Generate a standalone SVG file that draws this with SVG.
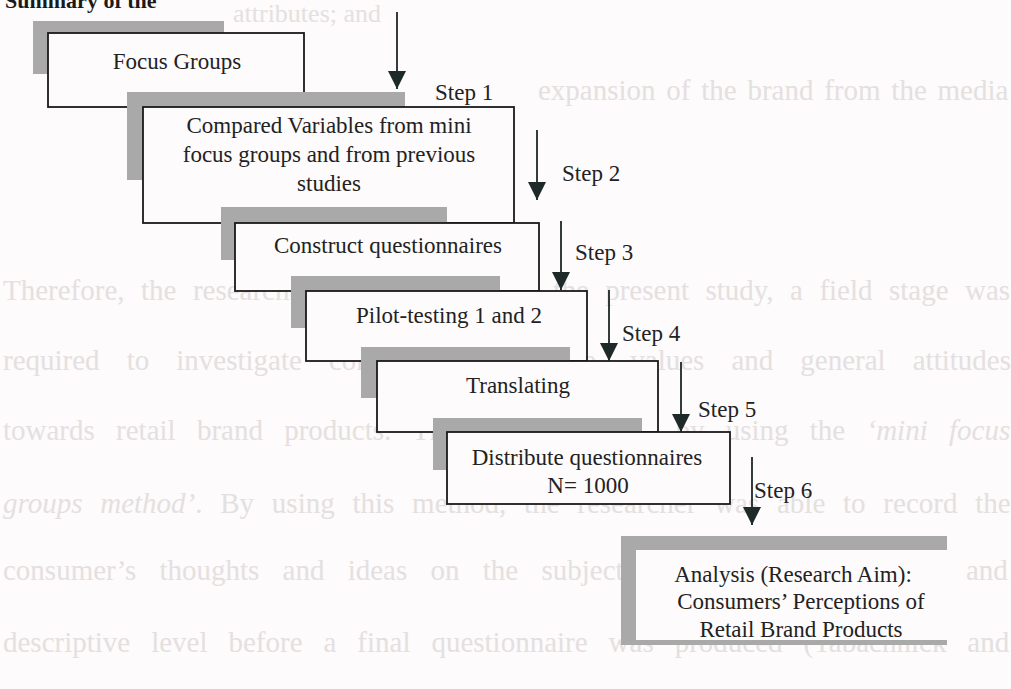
<svg xmlns="http://www.w3.org/2000/svg" width="1011" height="689" viewBox="0 0 1011 689">
  <defs>
    <style>
      .page { fill: #fdfbfb; }
      .ghost { font-family: "Liberation Serif", "Times New Roman", serif; font-size: 29px; fill: #e4e0e0; }
      .title { font-family: "Liberation Serif", "Times New Roman", serif; font-size: 22px; font-weight: bold; fill: #1a1a1a; }
      .shadow { fill: #a9a9a9; }
      .box { fill: #fdfbfb; stroke: #1a1a1a; stroke-width: 1.8; }
      .plain { fill: #fdfbfb; stroke: none; }
      .label { font-family: "Liberation Serif", "Times New Roman", serif; font-size: 23px; fill: #222; text-anchor: middle; }
      .step { font-family: "Liberation Serif", "Times New Roman", serif; font-size: 23px; fill: #222; }
      .arrow { stroke: #1e2626; stroke-width: 1.8; fill: none; marker-end: url(#head); }
    </style>
    <marker id="head" markerUnits="userSpaceOnUse" markerWidth="20" markerHeight="20" refX="18" refY="9" orient="auto">
      <path d="M0,0 L18,9 L0,18 Z" fill="#1e2a2a"/>
    </marker>
  </defs>

  <rect class="page" x="0" y="0" width="1011" height="689"/>

  <!-- faint running text of the page behind the figure (justified lines) -->
  <g id="page-text" class="ghost">
    <text x="233" y="22" font-size="26">attributes; and</text>
    <text x="538" y="100" word-spacing="3.5">expansion of the brand from the media</text>
    <text x="3" y="300" word-spacing="9.2">Therefore, the researcher believed that for the present study, a field stage was</text>
    <text x="3" y="370" word-spacing="19.8">required to investigate consumer knowledge, values and general attitudes</text>
    <text x="3" y="440" word-spacing="14">towards retail brand products. This was achieved by using the <tspan font-style="italic">‘mini focus</tspan></text>
    <text x="3" y="513" word-spacing="10.5"><tspan font-style="italic">groups method’</tspan>. By using this method, the researcher was able to record the</text>
    <text x="3" y="580" word-spacing="16">consumer’s thoughts and ideas on the subject</text>
    <text x="966" y="580">and</text>
    <text x="3" y="652" word-spacing="13.7">descriptive level before a final questionnaire was produced (Tabachnick and</text>
  </g>

  <text class="title" x="5" y="8">Summary of the</text>

  <!-- steps, each box with its offset grey shadow -->
  <g id="focus-groups">
    <rect class="shadow" x="33" y="21" width="191" height="53"/>
    <rect class="box" x="48" y="33" width="256" height="74"/>
    <text class="label" x="177" y="69">Focus Groups</text>
  </g>

  <g id="compared-variables">
    <rect class="shadow" x="127" y="92" width="278" height="88"/>
    <rect class="box" x="143" y="107" width="371" height="116"/>
    <text class="label" x="329" y="133">Compared Variables from mini</text>
    <text class="label" x="329" y="162">focus groups and from previous</text>
    <text class="label" x="329" y="191">studies</text>
  </g>

  <g id="construct-questionnaires">
    <rect class="shadow" x="221" y="207" width="226" height="53"/>
    <rect class="box" x="235" y="223" width="304" height="68"/>
    <text class="label" x="388" y="253">Construct questionnaires</text>
  </g>

  <g id="pilot-testing">
    <rect class="shadow" x="291" y="276" width="209" height="52"/>
    <rect class="box" x="306" y="291" width="281" height="70"/>
    <text class="label" x="449" y="323">Pilot-testing 1 and 2</text>
  </g>

  <g id="translating">
    <rect class="shadow" x="361" y="347" width="209" height="51"/>
    <rect class="box" x="377" y="361" width="281" height="71"/>
    <text class="label" x="518" y="393">Translating</text>
  </g>

  <g id="distribute-questionnaires">
    <rect class="shadow" x="433" y="418" width="209" height="52"/>
    <rect class="box" x="447" y="432" width="283" height="72"/>
    <text class="label" x="587" y="465">Distribute questionnaires</text>
    <text class="label" x="588" y="493">N= 1000</text>
  </g>

  <g id="analysis">
    <rect class="shadow" x="621" y="536" width="326" height="109"/>
    <rect class="plain" x="636" y="550" width="325" height="90"/>
    <text class="label" x="793" y="582">Analysis (Research Aim):</text>
    <text class="label" x="801" y="609">Consumers’ Perceptions of</text>
    <text class="label" x="801" y="637">Retail Brand Products</text>
  </g>

  <!-- step arrows and their labels -->
  <g id="connectors">
    <line class="arrow" x1="397" y1="12" x2="397" y2="89"/>
    <line class="arrow" x1="537" y1="130" x2="537" y2="200"/>
    <line class="arrow" x1="561" y1="221" x2="561" y2="290"/>
    <line class="arrow" x1="609" y1="290" x2="609" y2="361"/>
    <line class="arrow" x1="681" y1="362" x2="681" y2="432"/>
    <line class="arrow" x1="752" y1="457" x2="752" y2="525"/>
    <text class="step" x="435" y="100">Step 1</text>
    <text class="step" x="562" y="181">Step 2</text>
    <text class="step" x="575" y="260">Step 3</text>
    <text class="step" x="622" y="341">Step 4</text>
    <text class="step" x="698" y="417">Step 5</text>
    <text class="step" x="754" y="498">Step 6</text>
  </g>
</svg>
